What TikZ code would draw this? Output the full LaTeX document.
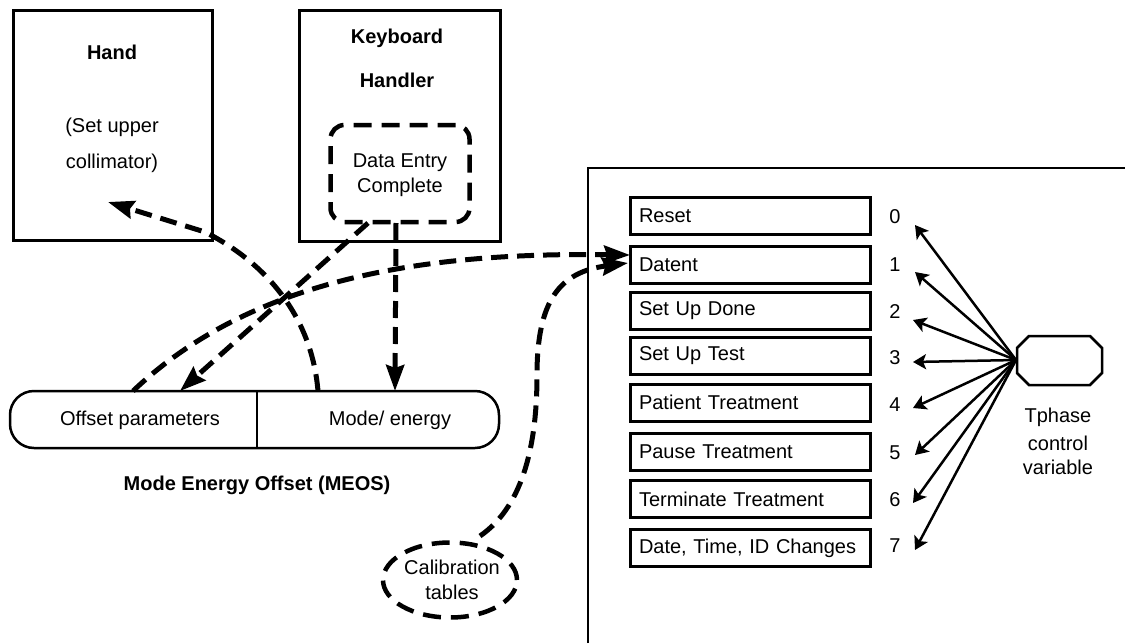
\documentclass[tikz,border=0pt]{standalone}
\usepackage{fontspec}
\setmainfont{Liberation Sans}
\usetikzlibrary{arrows.meta,decorations.markings,shapes.geometric,calc}

\begin{document}
\begin{tikzpicture}[x=1pt,y=-1pt,
  every node/.style={font=\fontsize{20}{24}\selectfont, inner sep=0pt},
  heading/.style={font=\fontsize{20}{24}\selectfont\bfseries},
  solidbox/.style={draw, line width=3pt, anchor=north west},
  dashbox/.style={draw, line width=4.5pt, dash pattern=on 18pt off 10pt},
  rowbox/.style={draw, line width=3pt, text width=222pt, inner xsep=9pt,
    inner ysep=0pt, minimum height=37pt, align=left},
  flow/.style={line width=5pt, dash pattern=on 17pt off 9pt,
    -{Stealth[length=26pt,width=18pt,inset=3pt]}},
  fan/.style={line width=2.5pt, -{Stealth[length=13pt,width=15pt,inset=3pt]}},
]
\useasboundingbox (0,0) rectangle (1125,643);

% ---- Hand process ----
\node[solidbox, minimum width=199pt, minimum height=230pt] (hand) at (12,9) {};
\node[heading] (handT) at (112,52) {Hand};
\node (handA) at (112,127) {(Set upper};
\node (handB) at (112,163) {collimator)};

% ---- Keyboard handler ----
\node[solidbox, minimum width=201pt, minimum height=231pt] (kbd) at (298,9) {};
\node[heading] (kbdA) at (397,38) {Keyboard};
\node[heading] (kbdB) at (397,80) {Handler};
\node[dashbox, rounded corners=14pt, minimum width=139pt, minimum height=97pt]
  (dec) at (400,173.5) {};
\node (decA) at (400,163) {Data Entry};
\node (decB) at (400,187) {Complete};

% ---- MEOS shared variable ----
\node[draw, line width=2.5pt, rounded corners=24pt, minimum width=489pt,
  minimum height=57pt] (meos) at (254.5,419.5) {};
\coordinate (divT) at (257,391);
\coordinate (divB) at (257,448);
\draw[line width=2.5pt] (divT) -- (divB);
\node (offs) at (140,420) {Offset parameters};
\node (mode) at (390,420) {Mode/ energy};
\node[heading] (meosT) at (257,485) {Mode Energy Offset (MEOS)};

% ---- Calibration tables ----
\node[ellipse, dashbox, minimum width=134pt, minimum height=75pt] (calib) at (450,580) {};
\node (calA) at (452,567) {Calibration};
\node (calB) at (452,592) {tables};

% ---- Treatment monitor (extends beyond the frame) ----
\coordinate (tmBL) at (588,643);
\coordinate (tmTL) at (588,168);
\coordinate (tmTR) at (1125,168);
\draw[line width=2.5pt] (tmBL) -- (tmTL) -- (tmTR);

\node[rowbox] (r0) at (750,216)   {Reset};
\node[rowbox] (r1) at (750,264.5) {Datent};
\node[rowbox] (r2) at (750,311)   {Set Up Done};
\node[rowbox] (r3) at (750,356)   {Set Up Test};
\node[rowbox] (r4) at (750,402.5) {Patient Treatment};
\node[rowbox] (r5) at (750,452)   {Pause Treatment};
\node[rowbox] (r6) at (750,499)   {Terminate Treatment};
\node[rowbox] (r7) at (750,548)   {Date, Time, ID Changes};

\node (n0) at (895,217) {0};
\node (n1) at (895,265) {1};
\node (n2) at (895,312) {2};
\node (n3) at (895,358) {3};
\node (n4) at (895,405) {4};
\node (n5) at (895,453) {5};
\node (n6) at (895,500) {6};
\node (n7) at (895,546) {7};

% ---- Tphase control variable ----
\coordinate (oc1) at (1029,336);
\coordinate (oc2) at (1090,336);
\coordinate (oc3) at (1102,348);
\coordinate (oc4) at (1102,373);
\coordinate (oc5) at (1090,385);
\coordinate (oc6) at (1029,385);
\coordinate (oc7) at (1017,373);
\coordinate (oc8) at (1017,348);
\draw[line width=2.5pt] (oc1) -- (oc2) -- (oc3) -- (oc4) -- (oc5) -- (oc6) -- (oc7) -- (oc8) -- cycle;
\coordinate (tph) at (1016,360);
\node (tpA) at (1058,417) {Tphase};
\node (tpB) at (1058,443) {control};
\node (tpC) at (1058,467) {variable};

\coordinate (t0) at (915,225);
\coordinate (t1) at (915,272);
\coordinate (t2) at (913,320);
\coordinate (t3) at (913,362);
\coordinate (t4) at (913,408);
\coordinate (t5) at (915,455);
\coordinate (t6) at (913,503);
\coordinate (t7) at (915,550);
\foreach \k in {0,...,7} \draw[fan] (tph) -- (t\k);

% ---- dashed data flows ----
\coordinate (aS) at (318,391);
\coordinate (aK) at (205,232);
\coordinate (aE) at (108,202);
\draw[flow] (aS) .. controls (312,320) and (270,265) .. (aK) -- (aE);

\coordinate (bS) at (368,223);
\coordinate (bE) at (180,391);
\draw[flow] (bS) -- (bE);

\coordinate (cS) at (396,223);
\coordinate (cE) at (395,391);
\draw[flow] (cS) -- (cE);

\coordinate (dS) at (133,391);
\coordinate (dE) at (630,255);
\draw[flow] (dS) .. controls (250,280) and (420,252) .. (dE);

\coordinate (eS) at (480,536);
\coordinate (eM) at (537,375);
\coordinate (eE) at (628,263);
\draw[flow] (eS) .. controls (525,505) and (537,440) .. (eM)
  .. controls (537,300) and (560,272) .. (eE);
\end{tikzpicture}
\end{document}
